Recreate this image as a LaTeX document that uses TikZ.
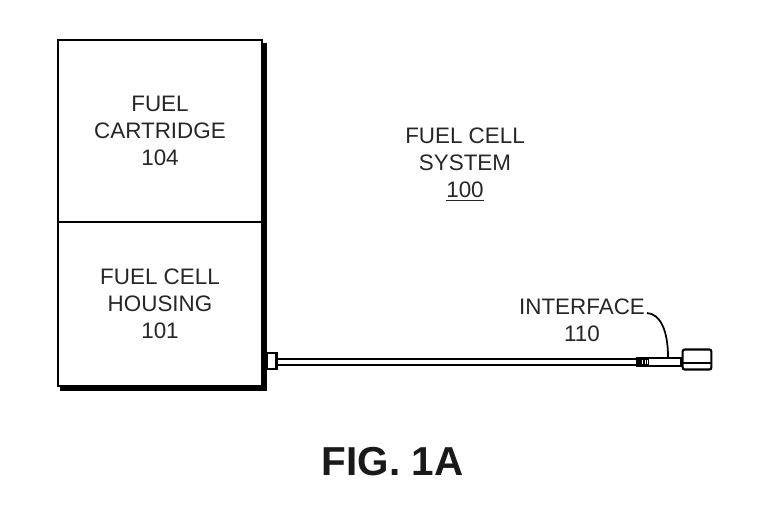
\documentclass[tikz,border=0pt]{standalone}
\usepackage{fontspec}
\setmainfont{Liberation Sans}
\usetikzlibrary{calc}
\tikzset{
  labeltext/.style={font=\fontsize{16.8}{20.2}\selectfont, text=black!85, align=center},
  boxnode/.style={draw, line width=2.2pt, minimum width=153pt, inner sep=0pt, labeltext},
  partnode/.style={draw, line width=1.6pt, inner sep=0pt, fill=white}
}

\begin{document}
\begin{tikzpicture}[x=0.75pt, y=-0.75pt]
    \useasboundingbox (0,0) rectangle (780,514);
    % housing stack
    \node (cartridge) at (160,131) [boxnode, minimum height=136.5pt] {FUEL\\CARTRIDGE\\104};
    \node (housing) at (160,304) [boxnode, minimum height=123pt] {FUEL CELL\\HOUSING\\101};
    \draw[line width=3.5pt] ($(cartridge.north east)+(1,4.5)$) -- ($(housing.south east)+(1,1)$) -- ($(housing.south west)+(3,1)$);
    % cable and its ends
    \node (plug) at (271.5,361) [partnode, minimum width=7.5pt, minimum height=12.5pt] {};
    \node (relief) at (659.5,362) [partnode, minimum width=33pt, minimum height=6pt] {};
    \node (head) at (697,359.5) [partnode, rounded corners=1.5pt, minimum width=21.5pt, minimum height=15pt] {};
    \draw[double=white, double distance=3pt, line width=1.7pt] (plug.east |- 0,362) -- (relief.west);
    \fill (relief.north west) rectangle ($(relief.south west)+(13,0)$);
    \foreach \x in {6,8.5,11} {
      \draw[white, line width=0.6pt] ($(relief.north west)+(\x,3)$) -- ($(relief.south west)+(\x,-3)$);
    }
    \draw[line width=1.5pt] ($(head.west)+(0,3)$) -- ($(head.east)+(0,3)$);
    % labels
    \node (system) at (465,164.5) [labeltext] {FUEL CELL\\SYSTEM\\\underline{100}};
    \node (interface) at (582,320.5) [labeltext] {INTERFACE\\110};
    \coordinate (leadend) at (relief.north -| 668,0);
    \draw[line width=1.3pt] (647,313) .. controls (661,314) and (668,332) .. (leadend);
    \node (figlabel) at (392.5,462) [font=\fontsize{30.3}{36}\selectfont\bfseries, text=black!90] {FIG. 1A};
  \end{tikzpicture}
\end{document}
